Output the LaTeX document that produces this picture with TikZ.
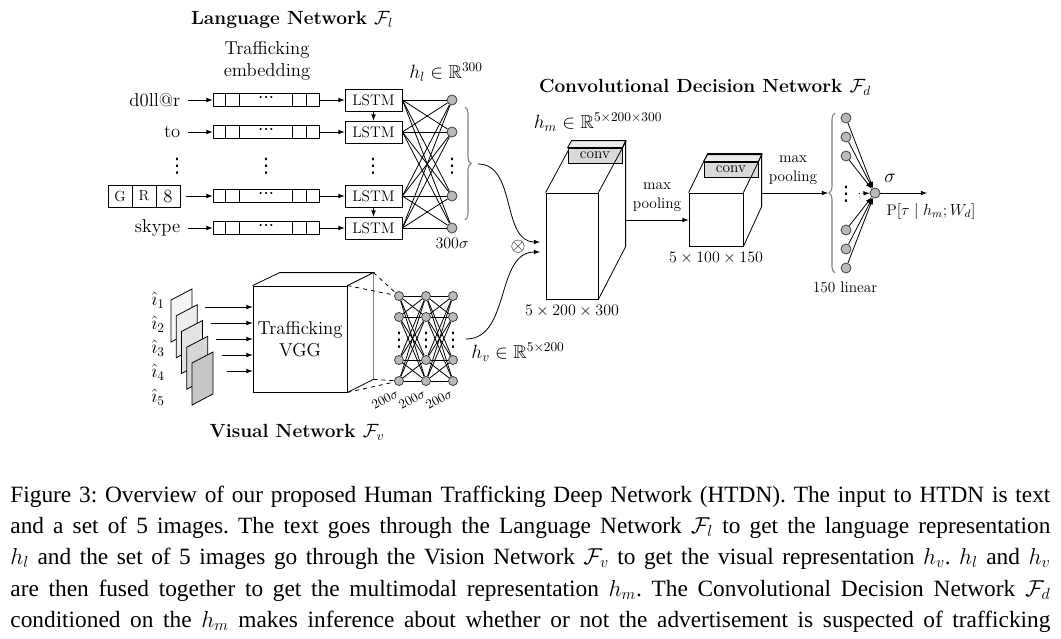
\documentclass[tikz,border=0pt]{standalone}
\usepackage{amsmath,amssymb}
\usepackage{fontspec}
\newfontfamily\capfont{Liberation Serif}
\newfontfamily\symfont{DejaVu Sans}
\usetikzlibrary{calc,decorations.pathreplacing}
\frenchspacing

\tikzset{
  big/.style={font=\fontsize{14}{16.5}\selectfont},
  small/.style={font=\fontsize{11.5}{14}\selectfont},
  word/.style={big, inner sep=1pt},
  vdot/.style={inner sep=0pt, font=\fontsize{15}{16}\symfont},
  title/.style={font=\fontsize{14.3}{16}\selectfont\bfseries},
  neuron/.style={circle, draw=black!75, fill=gray!55, minimum size=7.5pt, inner sep=0pt},
  vneuron/.style={neuron, minimum size=6.8pt},
  embbox/.style={draw, minimum width=79.5pt, minimum height=9.75pt, inner sep=0pt, font=\fontsize{12}{12}\symfont},
  lstmbox/.style={draw, minimum width=42.75pt, minimum height=16.5pt, inner sep=0pt, small},
  letterbox/.style={draw, minimum width=18pt, minimum height=16.5pt, inner sep=0pt},
  convbox/.style={draw, fill=gray!30, minimum width=40.5pt, minimum height=11.25pt, inner sep=0pt, small},
  gbrace/.style={draw=gray, line width=0.8pt, decorate, decoration={brace, amplitude=4.5pt}},
  capline/.style={anchor=base west, inner sep=0pt, font=\fontsize{17.5}{20}\capfont},
}

\begin{document}
\begin{tikzpicture}[x=0.75pt, y=-0.75pt, >=latex, line width=0.6pt]
\useasboundingbox (0,0) rectangle (1061,639);

% language network
\node[title] (tl) at (292,20) {Language Network $\mathcal{F}_l$};
\node[big, align=center] (temb) at (267,61) {Trafficking\\embedding};
\node[big] (hl) at (446,72) {$h_l \in \mathbb{R}^{300}$};

\node[word, anchor=east] (w1) at (182,100) {d0ll@r};
\node[word, anchor=east] (w2) at (182,132) {to};
\node[letterbox, font=\fontsize{11}{12}\selectfont] (g1) at (120,196) {G};
\node[letterbox, font=\fontsize{11}{12}\selectfont] (g2) at (144,196) {R};
\node[letterbox, big] (w4) at (168,196) {8};
\node[word, anchor=east] (w5) at (182,228) {skype};

\foreach \n/\y in {1/100,2/132,4/196,5/228} {
  \node[embbox] (emb\n) at (266,\y) {⋯};
  \foreach \dx in {13,27,80,94}
    \draw ($(emb\n.north west)+(\dx,0)$) -- ($(emb\n.south west)+(\dx,0)$);
  \node[lstmbox] (lstm\n) at (373.5,\y) {LSTM};
  \node[neuron] (nl\n) at (452,\y) {};
  \draw[->, shorten <=4.5pt] (w\n) -- (emb\n);
  \draw[->] (emb\n) -- (lstm\n);
}
\draw[->] (lstm1) -- (lstm2);
\draw[->] (lstm4) -- (lstm5);
\foreach \i in {1,2,4,5}
  \foreach \j in {1,2,4,5}
    \draw (lstm\i.east) -- (nl\j);
\foreach \x in {177,266,373,452}
  \node[vdot] (dl\x) at (\x,166) {⋮};
\node[small] (s300) at (452,243) {$300\sigma$};

\draw[gbrace] (465,107) -- (465,220);
\coordinate (bl) at (478,164);
\coordinate (in1) at (540,242);
\coordinate (in2) at (540,252);
\node[big] (fuse) at (518,247) {$\otimes$};
\draw[->] (bl) to[out=0, in=180] (in1);

% visual network
\node[title] (tv) at (297,432) {Visual Network $\mathcal{F}_v$};
\node[draw, fill=white, minimum width=70.5pt, minimum height=79.5pt, inner sep=0pt, big, align=center] (vgg) at (300,339) {Trafficking\\VGG};
\foreach \k/\c in {1/8,2/15,3/22,4/32,5/45} {
  \draw[fill=gray!\c] ({171+5.25*(\k-1)},{300+15.75*(\k-1)}) -- ++(21,-11) -- ++(0,42) -- ++(-21,11) -- cycle;
  \node[big] (ih\k) at (158,{300+24.25*(\k-1)}) {$\hat{\imath}_{\k}$};
  \coordinate (ia\k) at ({205+5.5*(\k-1)},{307+16*(\k-1)});
  \draw[->] (ia\k) -- (ia\k -| vgg.west);
}
\coordinate (vtr) at ($(vgg.north east)+(26,-13)$);
\coordinate (vbr) at ($(vgg.south east)+(26,-13)$);
\draw (vgg.north west) -- ++(27,-13) -- (vtr) -- (vgg.north east);
\draw (vgg.south east) -- (vbr);
\draw[gray, line width=1pt] (vtr) -- (vbr);

\foreach \c/\x in {1/399,2/426,3/453} {
  \foreach \r/\y in {1/296,2/317,4/360,5/381}
    \node[vneuron] (v\c\r) at (\x,\y) {};
  \node[vdot] (vd\c) at (\x,340) {⋮};
}
\foreach \c/\d in {1/2,2/3}
  \foreach \r in {1,2,4,5}
    \foreach \s in {1,2,4,5}
      \draw (v\c\r) -- (v\d\s);
\draw[dashed] (vgg.north east) -- (v11);
\draw[dashed] (vtr) -- (v11);
\draw[dashed] (vgg.south east) -- (v15);
\draw[dashed] (vbr) -- (v15);
\foreach \c/\x in {1/385,2/412,3/439}
  \node[rotate=28, inner sep=0pt, font=\fontsize{10}{11}\selectfont] (l200\c) at (\x,399) {$200\sigma$};

\node[big] (hv) at (518,352) {$h_v \in \mathbb{R}^{5\times 200}$};
\coordinate (vl) at (466,339);
\draw[->] (vl) to[out=0, in=180] (in2);

% decision network
\node[title] (td) at (705,87) {Convolutional Decision Network $\mathcal{F}_d$};
\node[big] (hm) at (598,122) {$h_m \in \mathbb{R}^{5\times 200\times 300}$};

\node[draw, fill=white, minimum width=39pt, minimum height=79.5pt, inner sep=0pt] (cube1) at (572,246) {};
\draw (cube1.north west) -- ++(28,-52) -- ++(52,0) -- ++(0,106) -- (cube1.south east);
\node[convbox] (conv1) at (595,155.5) {conv};
\draw[fill=gray!15] (conv1.north west) -- ++(4,-7) -- ++(54,0) -- (conv1.north east) -- cycle;
\draw (cube1.north east) -- ++(28,-52);
\node[small] (d1) at (572,311) {$5\times 200\times 300$};

\node[draw, fill=white, minimum width=40.5pt, minimum height=39.75pt, inner sep=0pt] (cube2) at (716,219.5) {};
\draw (cube2.north west) -- ++(19,-39) -- ++(54,0) -- ++(0,53) -- (cube2.south east);
\node[convbox] (conv2) at (731,169.5) {conv};
\draw[fill=gray!15] (conv2.north west) -- ++(4,-7) -- ++(54,0) -- (conv2.north east) -- cycle;
\draw (cube2.north east) -- ++(19,-39);
\node[small] (d2) at (716,258) {$5\times 100\times 150$};

\coordinate (c1r) at (626,220);
\draw[->] (c1r) -- (cube2.west |- c1r);
\node[small, align=center, anchor=south] (mp1) at (657,216) {max\\pooling};

\coordinate (c2r) at (762,193);
\coordinate (bt2) at (828,193);
\draw[->] (c2r) -- (bt2);
\node[small, align=center, anchor=south] (mp2) at (793,189) {max\\pooling};
\draw[gbrace] (835,273) -- (835,113);

\foreach \i/\y in {1/118,2/137,3/156,5/230,6/249,7/268}
  \node[neuron] (o\i) at (846,\y) {};
\node[vdot] (od) at (846,194) {⋮};
\node[neuron] (out) at (875,193) {};
\foreach \i in {1,2,3,5,6,7}
  \draw[->] (o\i) -- (out);
\draw[->, dotted, shorten <=2pt] (od) -- (out);
\coordinate (pout) at (927,193);
\draw[->] (out) -- (pout);
\node[big] (sig) at (890,178) {$\sigma$};
\node[small] (prob) at (931,211) {$\mathrm{P}[\tau \mid h_m; W_d]$};
\node[small] (lin) at (845,287) {150 linear};

% caption
\node[capline] (cap1) at (10,502) {\makebox[780pt][s]{Figure 3: Overview of our proposed Human Trafficking Deep Network (HTDN). The input to HTDN is text}};
\node[capline] (cap2) at (10,533) {\makebox[780pt][s]{and a set of 5 images. The text goes through the Language Network $\mathcal{F}_l$ to get the language representation}};
\node[capline] (cap3) at (10,564) {\makebox[780pt][s]{$h_l$ and the set of 5 images go through the Vision Network $\mathcal{F}_v$ to get the visual representation $h_v$. $h_l$ and $h_v$}};
\node[capline] (cap4) at (10,596) {\makebox[780pt][s]{are then fused together to get the multimodal representation $h_m$. The Convolutional Decision Network $\mathcal{F}_d$}};
\node[capline] (cap5) at (10,627) {\makebox[780pt][s]{conditioned on the $h_m$ makes inference about whether or not the advertisement is suspected of trafficking}};
\end{tikzpicture}
\end{document}
